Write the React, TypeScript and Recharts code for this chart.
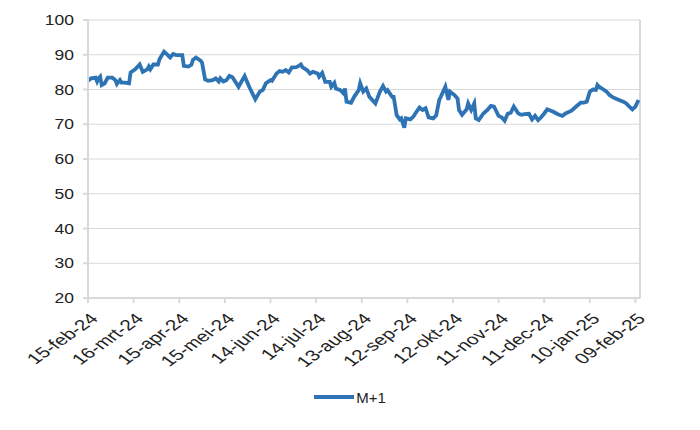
import React from "react";
import { LineChart, Line, XAxis, YAxis, CartesianGrid, Legend, ReferenceLine } from "recharts";

const seriesName = "M+1";

const days = [
  0, 2, 5, 6, 7, 8, 9, 11, 13, 16, 18, 19, 21, 22, 24, 27, 28, 31, 34, 36,
  39, 40, 41, 43, 46, 47, 50, 52, 54, 56, 58, 62, 63, 66, 68, 69, 71, 74, 75, 77,
  79, 82, 84, 86, 87, 89, 91, 93, 95, 99, 103, 106, 110, 113, 115, 117, 120, 121, 124, 126,
  128, 130, 132, 134, 137, 140, 141, 144, 146, 148, 151, 152, 154, 156, 159, 160, 162, 163, 166, 168,
  169, 170, 173, 175, 178, 179, 181, 183, 185, 189, 192, 194, 196, 197, 200, 201, 203, 205, 206, 208,
  209, 212, 214, 216, 218, 220, 222, 224, 227, 229, 231, 232, 235, 237, 238, 241, 243, 244, 246, 249,
  250, 252, 254, 255, 257, 260, 263, 265, 267, 270, 272, 274, 276, 278, 280, 283, 285, 287, 290, 292,
  294, 296, 298, 300, 302, 306, 309, 312, 314, 318, 321, 324, 326, 328, 330, 332, 334, 335, 336, 339,
  341, 343, 345, 348, 352, 354, 356, 358, 360, 362,
];

const values = [
  82.5, 83.2, 83.4, 82.3, 83.2, 83.7, 81.3, 81.8, 83.4, 83.4, 82.7, 81.6, 82.7, 82.0, 82.0, 81.8, 84.9, 85.8, 87.2, 85.1,
  85.8, 86.6, 85.8, 87.2, 87.2, 88.7, 90.9, 90.1, 89.2, 90.2, 89.9, 89.9, 86.8, 86.6, 87.1, 88.5, 89.2, 88.3, 87.7, 82.9,
  82.5, 82.7, 83.2, 82.3, 83.2, 82.3, 82.7, 83.9, 83.5, 80.8, 83.9, 80.8, 77.2, 79.4, 79.9, 81.8, 82.7, 82.5, 84.6, 85.3,
  85.1, 85.6, 84.9, 86.3, 86.4, 87.2, 86.4, 85.6, 84.6, 85.1, 84.6, 83.7, 84.8, 82.2, 82.2, 80.8, 81.9, 80.3, 79.8, 78.9,
  80.3, 76.5, 76.2, 77.9, 79.8, 81.8, 79.4, 80.3, 77.9, 76.0, 79.4, 81.0, 79.4, 79.8, 77.9, 77.9, 72.6, 71.4, 71.7, 69.0,
  71.7, 71.4, 72.2, 73.6, 74.8, 74.1, 74.6, 72.0, 71.7, 72.6, 77.0, 77.9, 80.8, 77.0, 79.4, 78.4, 77.4, 74.1, 72.7, 74.3,
  76.0, 74.1, 76.0, 71.7, 71.2, 73.1, 74.3, 75.3, 75.1, 72.4, 72.0, 71.0, 73.0, 73.3, 75.1, 73.1, 72.7, 72.9, 73.0, 71.4,
  72.4, 71.2, 72.0, 73.1, 74.3, 73.6, 72.9, 72.4, 73.1, 73.9, 75.1, 76.2, 76.2, 76.5, 79.4, 80.0, 79.9, 81.3, 80.8, 80.0,
  79.4, 78.4, 77.8, 77.2, 76.5, 76.0, 75.1, 74.3, 75.1, 77.0,
];

const tickDays = [0, 30, 60, 90, 120, 150, 180, 210, 240, 270, 300, 330, 360];
const tickLabels = [
  "15-feb-24", "16-mrt-24", "15-apr-24", "15-mei-24", "14-jun-24", "14-jul-24", "13-aug-24",
  "12-sep-24", "12-okt-24", "11-nov-24", "11-dec-24", "10-jan-25", "09-feb-25",
];
const yTicks = [20, 30, 40, 50, 60, 70, 80, 90, 100];

const data = days.map((d, i) => ({ d, v: values[i] }));

const LINE_COLOR = "#2E73B4";
const AXIS_COLOR = "#d9d9d9";
const TEXT_COLOR = "#222222";
const FONT = "'Liberation Sans', Arial, sans-serif";
const Y_STRETCH = 1.25;
const X_STRETCH = 1.4;

const XTick = (props: any) => {
  const { x, y, payload } = props;
  const i = tickDays.indexOf(payload.value);
  return (
    <g transform={`translate(${x - 4},${y}) scale(${X_STRETCH},1) rotate(-45)`}>
      <text
        x={0}
        y={0}
        dx={-2.7}
        dy={18}
        textAnchor="end"
        fontSize={15}
        fill={TEXT_COLOR}
        fontFamily={FONT}
      >
        {tickLabels[i]}
      </text>
    </g>
  );
};

const YTick = (props: any) => {
  const { x, y, payload } = props;
  return (
    <g transform={`translate(${x},${y}) scale(${Y_STRETCH},1)`}>
      <text x={0} y={0} dy={5} textAnchor="end" fontSize={14} fill={TEXT_COLOR} fontFamily={FONT}>
        {payload.value}
      </text>
    </g>
  );
};

const renderLegend = () => (
  <div
    style={{
      display: "flex",
      justifyContent: "center",
      alignItems: "center",
      fontFamily: FONT,
      height: 38,
    }}
  >
    <svg width={40} height={10} style={{ display: "block" }}>
      <line x1={0} y1={5} x2={40} y2={5} stroke={LINE_COLOR} strokeWidth={4} />
    </svg>
    <span style={{ fontSize: 15, color: TEXT_COLOR, marginLeft: 2 }}>{seriesName}</span>
  </div>
);

export default function App() {
  return (
    <div style={{ width: 684, height: 414, fontFamily: FONT }}>
      <LineChart
        width={684}
        height={414}
        data={data}
        margin={{ top: 12, right: 52, left: 0, bottom: 6 }}
      >
        <CartesianGrid vertical={false} stroke={AXIS_COLOR} strokeWidth={1} />
        <XAxis
          dataKey="d"
          type="number"
          domain={[0, 363]}
          ticks={tickDays}
          interval={0}
          height={80}
          axisLine={{ stroke: AXIS_COLOR, strokeWidth: 2 }}
          tickLine={{ stroke: AXIS_COLOR, strokeWidth: 2 }}
          tickSize={5}
          tick={<XTick />}
        />
        <YAxis
          domain={[20, 100]}
          ticks={yTicks}
          interval={0}
          width={80}
          axisLine={{ stroke: AXIS_COLOR, strokeWidth: 2 }}
          tickLine={{ stroke: AXIS_COLOR, strokeWidth: 2 }}
          tickSize={5}
          tickMargin={9}
          tick={<YTick />}
        />
        <ReferenceLine x={363} stroke={AXIS_COLOR} strokeWidth={2} />
        <Line
          type="linear"
          dataKey="v"
          name={seriesName}
          stroke={LINE_COLOR}
          strokeWidth={3.8}
          dot={false}
          isAnimationActive={false}
        />
        <Legend
          verticalAlign="bottom"
          height={38}
          content={renderLegend}
          wrapperStyle={{ left: 0, width: 684 }}
        />
      </LineChart>
    </div>
  );
}
